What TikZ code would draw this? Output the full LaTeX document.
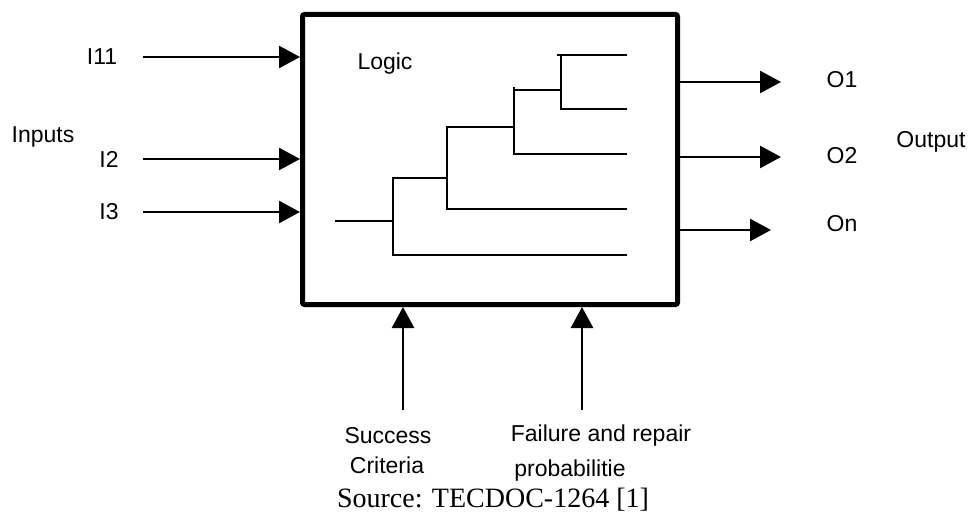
\documentclass[tikz,border=0pt]{standalone}
\usepackage{fontspec}
\setmainfont{Liberation Serif}
\setsansfont{Liberation Sans}
\usetikzlibrary{arrows.meta}
\begin{document}
\begin{tikzpicture}[x=1pt,y=-1pt,
  lbl/.style={font=\sffamily\fontsize{23}{27}\selectfont, inner sep=0pt},
  arr/.style={line width=2.6pt, -{Triangle[length=21pt,width=22pt]}},
  tree/.style={line width=2.8pt, line cap=rect}]
\useasboundingbox (0,0) rectangle (973,529);
\node[draw, line width=5pt, rounded corners=2pt, minimum width=375pt, minimum height=290pt, inner sep=0pt] (box) at (490,159.5) {};
\node[lbl] (logic) at (385,64) {Logic};
% inputs
\node[lbl] (in1) at (102,57) {I11};
\node[lbl] (in2) at (109,159) {I2};
\node[lbl] (in3) at (109,212) {I3};
\node[lbl] (inputs) at (43,137) {Inputs};
\coordinate (i1s) at (143,57);
\coordinate (i2s) at (143,159);
\coordinate (i3s) at (143,212);
\draw[arr] (i1s) -- (i1s -| box.west);
\draw[arr] (i2s) -- (i2s -| box.west);
\draw[arr] (i3s) -- (i3s -| box.west);
% outputs
\coordinate (o1e) at (781,82);
\coordinate (o2e) at (781,157);
\coordinate (o3e) at (771,230);
\draw[arr] (o1e -| box.east) -- (o1e);
\draw[arr] (o2e -| box.east) -- (o2e);
\draw[arr] (o3e -| box.east) -- (o3e);
\node[lbl] (out1) at (842,80) {O1};
\node[lbl] (out2) at (842,156) {O2};
\node[lbl] (out3) at (842,224) {On};
\node[lbl] (output) at (931,142) {Output};
% bottom
\coordinate (sb) at (403,410);
\coordinate (fb) at (582,410);
\draw[arr] (sb) -- (sb |- box.south);
\draw[arr] (fb) -- (fb |- box.south);
\node[lbl] (succ) at (388,436) {Success};
\node[lbl] (crit) at (387,465) {Criteria};
\node[lbl] (fail) at (601,436) {Failure and repair};
\node[lbl] (prob) at (570,471) {probabilitie};
\node[font=\rmfamily\fontsize{28}{32}\selectfont, inner sep=0pt] (src) at (493,500) {Source: TECDOC-1264 [1]};
% logic tree
\draw[tree] (558,55) -- (626,55);
\draw[tree] (561,55) -- (561,109) -- (626,109);
\draw[tree] (514,90) -- (561,90);
\draw[tree] (514,88) -- (514,154) -- (626,154);
\draw[tree] (447,127) -- (514,127);
\draw[tree] (447,127) -- (447,209) -- (626,209);
\draw[tree] (393,178) -- (447,178);
\draw[tree] (393,178) -- (393,255) -- (626,255);
\draw[tree] (336,221) -- (393,221);
\end{tikzpicture}
\end{document}
